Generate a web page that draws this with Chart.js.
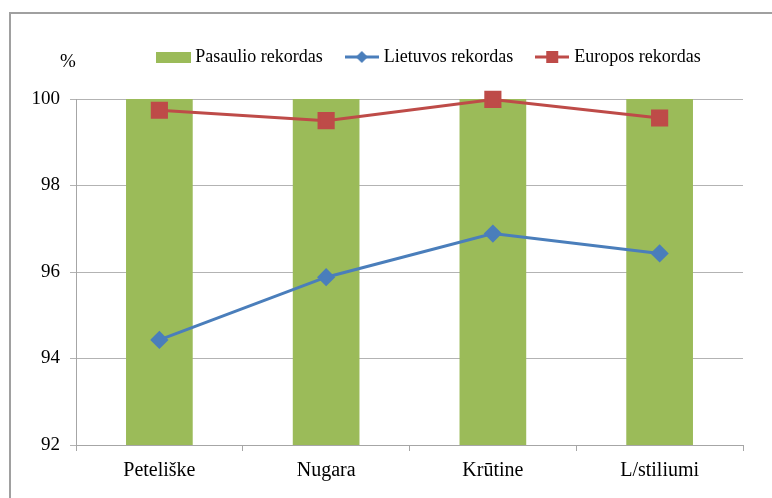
<!DOCTYPE html>
<html>
<head>
<meta charset="utf-8">
<script src="https://cdn.jsdelivr.net/npm/chart.js@4.4.1/dist/chart.umd.min.js"></script>
<style>
  html, body { margin: 0; padding: 0; background: #fff; }
  #wrap { width: 772px; height: 498px; }
</style>
</head>
<body>
<div id="wrap"><canvas id="grafic" width="772" height="498"></canvas></div>
<script>
const kategorijos = ['Peteliške', 'Nugara', 'Krūtine', 'L/stiliumi'];
const pasaulio = [100, 100, 100, 100];
const lietuvos = [94.43, 95.88, 96.89, 96.43];
const europos = [99.74, 99.50, 99.99, 99.56];
const yTicks = [92, 94, 96, 98, 100];

const zalia = '#9BBB59';
const melyna = '#4A7EBB';
const raudona = '#BE4B48';
const serif = "'Liberation Serif', 'Times New Roman', serif";

// legendos simboliai - mazi canvas paveiksleliai
function legendBox(color) {
    const c = document.createElement('canvas');
    c.width = 35; c.height = 11;
    const g = c.getContext('2d');
    g.fillStyle = color;
    g.fillRect(0, 0, 35, 11);
    return c;
}
function legendLine(color, marker) {
    const c = document.createElement('canvas');
    c.width = 34; c.height = 16;
    const g = c.getContext('2d');
    g.strokeStyle = color;
    g.lineWidth = 3;
    g.beginPath(); g.moveTo(0, 8); g.lineTo(34, 8); g.stroke();
    g.fillStyle = color;
    if (marker === 'diamond') {
        g.beginPath();
        g.moveTo(17 - 6, 8); g.lineTo(17, 2); g.lineTo(17 + 6, 8); g.lineTo(17, 14);
        g.closePath(); g.fill();
    } else {
        g.fillRect(17 - 6, 2, 12, 12);
    }
    return c;
}
const simboliai = [legendBox(zalia), legendLine(melyna, 'diamond'), legendLine(raudona, 'square')];

// remelis, "%" zenklas ir legendos vieta
const remelisPlugin = {
    id: 'remelis',
    beforeLayout(chart) {
        const lg = chart.legend;
        if (lg && !lg._tarpas) {
            const fit = lg.fit.bind(lg);
            lg.fit = function () { fit(); this.height += 23; };
            lg._tarpas = true;
        }
    },
    afterLayout(chart) {
        // legenda pastumta i desine kaip originale
        if (chart.legend) {
            chart.legend.left += 59;
            chart.legend.right += 59;
        }
    },
    afterDraw(chart) {
        const ctx = chart.ctx;
        ctx.save();
        ctx.strokeStyle = '#a0a0a0';
        ctx.lineWidth = 2;
        ctx.strokeRect(10, 13, 800, 520);
        ctx.fillStyle = '#000';
        ctx.font = '19px ' + serif;
        ctx.textAlign = 'center';
        ctx.textBaseline = 'middle';
        ctx.fillText('%', 68, 62);
        ctx.restore();
    }
};

new Chart(document.getElementById('grafic'), {
    type: 'bar',
    data: {
        labels: kategorijos,
        datasets: [
            {
                label: 'Pasaulio rekordas',
                data: pasaulio,
                backgroundColor: zalia,
                barPercentage: 0.4,
                categoryPercentage: 1,
                order: 3
            },
            {
                type: 'line',
                label: 'Lietuvos rekordas',
                data: lietuvos,
                borderColor: melyna,
                backgroundColor: melyna,
                borderWidth: 3,
                pointStyle: 'rectRot',
                pointRadius: 7,
                pointHoverRadius: 7,
                tension: 0,
                clip: false,
                order: 1
            },
            {
                type: 'line',
                label: 'Europos rekordas',
                data: europos,
                borderColor: raudona,
                backgroundColor: raudona,
                borderWidth: 3,
                pointStyle: 'rect',
                pointRadius: 10,
                pointHoverRadius: 10,
                tension: 0,
                clip: false,
                order: 2
            }
        ]
    },
    options: {
        responsive: false,
        animation: false,
        layout: { padding: { left: 0, right: 29, top: 22, bottom: 0 } },
        plugins: {
            tooltip: { enabled: false },
            legend: {
                position: 'top',
                labels: {
                    usePointStyle: true,
                    pointStyleWidth: 26,
                    padding: 26,
                    color: '#000',
                    font: { family: serif, size: 18 },
                    sort: (a, b) => a.datasetIndex - b.datasetIndex,
                    generateLabels(chart) {
                        return chart.data.datasets.map((ds, i) => ({
                            text: ds.label,
                            pointStyle: simboliai[i],
                            fillStyle: ds.backgroundColor,
                            strokeStyle: ds.backgroundColor,
                            lineWidth: 0,
                            hidden: false,
                            datasetIndex: i,
                            fontColor: '#000'
                        }));
                    }
                }
            }
        },
        scales: {
            x: {
                grid: { drawOnChartArea: false, offset: true, tickLength: 6, color: '#a6a6a6' },
                border: { color: '#a6a6a6', width: 1 },
                ticks: { color: '#000', font: { family: serif, size: 20 }, padding: 8 },
                afterFit(scale) { scale.height = 53; }
            },
            y: {
                min: 92,
                max: 100,
                afterBuildTicks(scale) { scale.ticks = yTicks.map(v => ({ value: v })); },
                grid: { color: '#b3b3b3', tickLength: 6 },
                border: { color: '#a6a6a6', width: 1 },
                ticks: { color: '#000', font: { family: serif, size: 19 }, padding: 10 },
                afterFit(scale) { scale.width = 76; }
            }
        }
    },
    plugins: [remelisPlugin]
});
</script>
</body>
</html>
